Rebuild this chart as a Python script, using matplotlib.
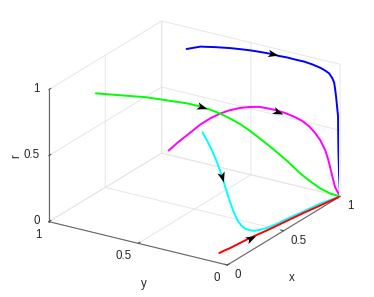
import matplotlib
matplotlib.use('Agg')
import matplotlib.pyplot as plt
from matplotlib.markers import MarkerStyle
from matplotlib.path import Path
from matplotlib.transforms import Affine2D
from mpl_toolkits.mplot3d import proj3d
import math

plt.rcParams['font.family'] = ['Liberation Sans', 'DejaVu Sans']
plt.rcParams['font.size'] = 8.3
plt.rcParams['path.simplify'] = False

# trajectories, all of them end up in (1,0,0)
blue_x = [.778, .808, .838, .853, .867, .882, .898, .915, .932, .942, .950, .950, .958, .958, .966, .966, .965, .970,
          .974, .977, .979, .980, .980, .981, .982, .983, .985, .991, 1]
blue_y = [.72, .70, .68, .65, .62, .585, .55, .505, .46, .41, .36, .315, .27, .225, .18, .135, .09, .065,
          .045, .03, .02, .015, .01, .005, 0, 0, 0, 0, 0]
blue_r = [.995, .995, .995, .995, .996, .996, .995, .993, .99, .989, .988, .987, .985, .984, .979, .973, .963, .947,
          .93, .899, .866, .815, .763, .688, .612, .489, .359, .165, 0]

green_x = [.079, .21, .351, .450, .549, .601, .642, .675, .709, .733, .757, .773, .796, .812, .840, .868, .893, .918, .959, 1]
green_y = [.787, .73, .68, .625, .57, .53, .495, .46, .425, .39, .355, .32, .285, .25, .195, .14, .10, .06, .03, 0]
green_r = [1.0, .936, .865, .808, .751, .713, .677, .64, .596, .557, .5095, .466, .413, .367, .287, .197, .137, .084, .034, 0]

magenta_x = [.508, .516, .533, .553, .578, .604, .635, .676, .71, .742, .773, .805, .838, .862, .886, .90, .921, .934,
             .947, .952, .959, .966, .972, 1]
magenta_y = [.65, .605, .56, .50, .46, .42, .39, .36, .325, .29, .265, .24, .205, .17, .14, .11, .09, .07,
             .05, .037, .03, .018, .01, 0]
magenta_r = [.389, .46, .525, .613, .66, .696, .713, .719, .721, .717, .698, .677, .648, .619, .585, .546, .492, .438,
             .362, .295, .233, .141, .08, 0]

cyan_x = [.254, .274, .295, .308, .32, .319, .319, .322, .326, .346, .365, .396, .424, .45, .488, .557, .634, .749, .875, 1]
cyan_y = [.3, .285, .27, .25, .23, .21, .19, .17, .15, .14, .13, .122, .117, .10, .085, .072, .065, .048, .033, 0]
cyan_r = [.774, .702, .619, .527, .42, .343, .264, .185, .122, .073, .042, .017, 0, 0, 0, 0, 0, 0, 0, 0]

red_x = [.105, .143, .185, .264, .341, .471, .613, .733, .855, 1]
red_y = [.111, .107, .10, .094, .087, .068, .052, .038, .02, 0]
red_r = [0, 0, 0, 0, 0, 0, 0, 0, 0, 0]

curves = [(blue_x, blue_y, blue_r, '#0000ff'),
          (magenta_x, magenta_y, magenta_r, '#ff00ff'),
          (green_x, green_y, green_r, '#00ff00'),
          (cyan_x, cyan_y, cyan_r, '#00ffff'),
          (red_x, red_y, red_r, '#ff0000')]

# arrow heads, (base) -> (tip)
arrow_base = [(.95, .365, .988), (.80, .245, .674), (.59, .54, .726), (.319, .24, .456), (.31, .09, 0)]
arrow_tip = [(.95, .32, .99), (.827, .215, .643), (.622, .51, .697), (.313, .22, .39), (.379, .083, 0)]

ticks = [0, 0.5, 1]
tick_labels = ['0', '0.5', '1']

fig = plt.figure(figsize=(3.74, 2.97), dpi=100)
ax = fig.add_axes([3.5 / 374, 1.5 / 297, 1, 1], projection='3d', proj_type='ortho', computed_zorder=False)
ax.view_init(elev=22.6, azim=-147.7)
ax.set_box_aspect((1, 1, .678), zoom=1.082)
ax.set_xlim(0, 1, view_margin=0)
ax.set_ylim(0, 1, view_margin=0)
ax.set_zlim(0, 1, view_margin=0)

for axis in (ax.xaxis, ax.yaxis, ax.zaxis):
    axis.set_pane_color((1, 1, 1, 0))
    axis.pane.set_edgecolor('#e6e6e6')
    axis.line.set_color('#666666')
    axis.line.set_linewidth(.8)
    axis._axinfo['grid'].update(color='#e6e6e6', linewidth=.7)
    axis._axinfo['tick'].update(inward_factor=0, outward_factor=.2)
    axis.set_ticks(ticks)
    axis.set_ticklabels([])
ax.tick_params(colors='#555555', width=.7)

for cx, cy, cr, col in curves:
    ax.plot(cx, cy, cr, color=col, lw=1.4, solid_capstyle='round')

fig.canvas.draw()


def to_2d(p):
    px, py, _ = proj3d.proj_transform(p[0], p[1], p[2], ax.M)
    return px, py


def label(p, s, dx, dy, **kw):
    ax.annotate(s, xy=to_2d(p), xytext=(dx, dy), textcoords='offset pixels', color='#262626',
                ha=kw.pop('ha', 'center'), va='center', annotation_clip=False, **kw)


# stealth shaped head
head = Path([(1, 0), (-1, .72), (-.5, 0), (-1, -.72), (1, 0)],
            [Path.MOVETO, Path.LINETO, Path.LINETO, Path.LINETO, Path.CLOSEPOLY])
for b, t in zip(arrow_base, arrow_tip):
    b2 = ax.transData.transform(to_2d(b))
    t2 = ax.transData.transform(to_2d(t))
    ang = math.degrees(math.atan2(t2[1] - b2[1], t2[0] - b2[0]))
    mk = MarkerStyle(head, transform=Affine2D().rotate_deg(ang))
    ax.plot([(b[0] + t[0]) / 2], [(b[1] + t[1]) / 2], [(b[2] + t[2]) / 2], marker=mk, ms=7.5,
            color='k', mew=0, ls='none')

for v, s in zip(ticks, tick_labels):
    label((v, 0, 0), s, 15 if s == '0.5' else 10, -10)
    label((0, v, 0), s, -15 if s == '0.5' else -11, -13)
    label((0, 1, v), s, -9, 1, ha='right')

label((.5, 0, 0), 'x', 8, -47)
label((0, .5, 0), 'y', 5.5, -41)
label((0, 1, .5), 'r', -33, 0, rotation=90)

fig.savefig('out.png', dpi=100)
